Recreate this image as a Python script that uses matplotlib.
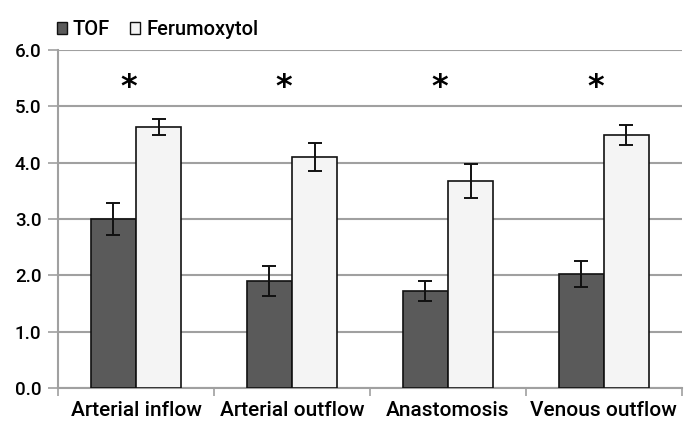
import numpy as np
import matplotlib.pyplot as plt
from matplotlib.patches import Rectangle

categories = ['Arterial inflow', 'Arterial outflow', 'Anastomosis', 'Venous outflow']
tof = [3.00, 1.90, 1.73, 2.03]
tof_err = [0.28, 0.27, 0.18, 0.23]
ferumoxytol = [4.63, 4.10, 3.68, 4.49]
ferumoxytol_err = [0.14, 0.25, 0.30, 0.18]
star_level = 5.33

plt.rcParams['font.family'] = ['Roboto', 'DejaVu Sans']
plt.rcParams['font.weight'] = 500

fig = plt.figure(figsize=(7, 4.4), dpi=100)
ax = fig.add_axes([0.083, 0.118, 0.891, 0.768])

x = np.arange(len(categories))
w = 0.29
ax.bar(x - w/2, tof, w, color='#5a5a5a', edgecolor='#111111', linewidth=1.2, zorder=3)
ax.bar(x + w/2, ferumoxytol, w, color='#f4f4f4', edgecolor='#111111', linewidth=1.2, zorder=3)
ax.errorbar(x - w/2, tof, yerr=tof_err, fmt='none', ecolor='#111111', elinewidth=1.4,
            capsize=5, capthick=1.4, zorder=4)
ax.errorbar(x + w/2, ferumoxytol, yerr=ferumoxytol_err, fmt='none', ecolor='#111111',
            elinewidth=1.4, capsize=5, capthick=1.4, zorder=4)
for xi in x:
  ax.text(xi - 0.05, star_level, '*', ha='center', va='center', fontsize=23,
          fontweight='bold', family='DejaVu Sans')

ax.set_xlim(-0.5, len(categories) - 0.5)
ax.set_ylim(0, 6)
ax.set_yticks(np.arange(0, 6.1, 1))
ax.set_yticklabels(['%.1f' % v for v in np.arange(0, 6.1, 1)], fontsize=13.5)
ax.yaxis.grid(True, color='#a0a0a0', linewidth=1.5, zorder=0)
ax.set_axisbelow(True)

ax.set_xticks(x)
ax.set_xticklabels(categories, fontsize=15)
ax.set_xticks(np.arange(-0.5, len(categories), 1), minor=True)
ax.tick_params(axis='x', which='major', length=0, pad=9)
ax.tick_params(axis='x', which='minor', length=6, color='#a0a0a0', width=1.2)
ax.tick_params(axis='y', length=7, color='#a0a0a0', width=1.2, pad=5)

for s in ['top', 'right']:
  ax.spines[s].set_visible(False)
ax.spines['left'].set_color('#a0a0a0')
ax.spines['bottom'].set_color('#a0a0a0')
ax.spines['left'].set_linewidth(1.5)
ax.spines['bottom'].set_linewidth(1.5)

# legend sits above the plot, top left
handles = [Rectangle((0, 0), 1, 1, facecolor='#5a5a5a', edgecolor='#111111'),
           Rectangle((0, 0), 1, 1, facecolor='#f4f4f4', edgecolor='#111111')]
fig.legend(handles, ['TOF', 'Ferumoxytol'], loc='upper left', bbox_to_anchor=(0.061, 0.986),
           ncol=2, frameon=False, fontsize=14.5, handlelength=0.5, handleheight=0.5,
           handletextpad=0.3, columnspacing=1.0, borderaxespad=0.3)

fig.savefig('out.png', dpi=100)
